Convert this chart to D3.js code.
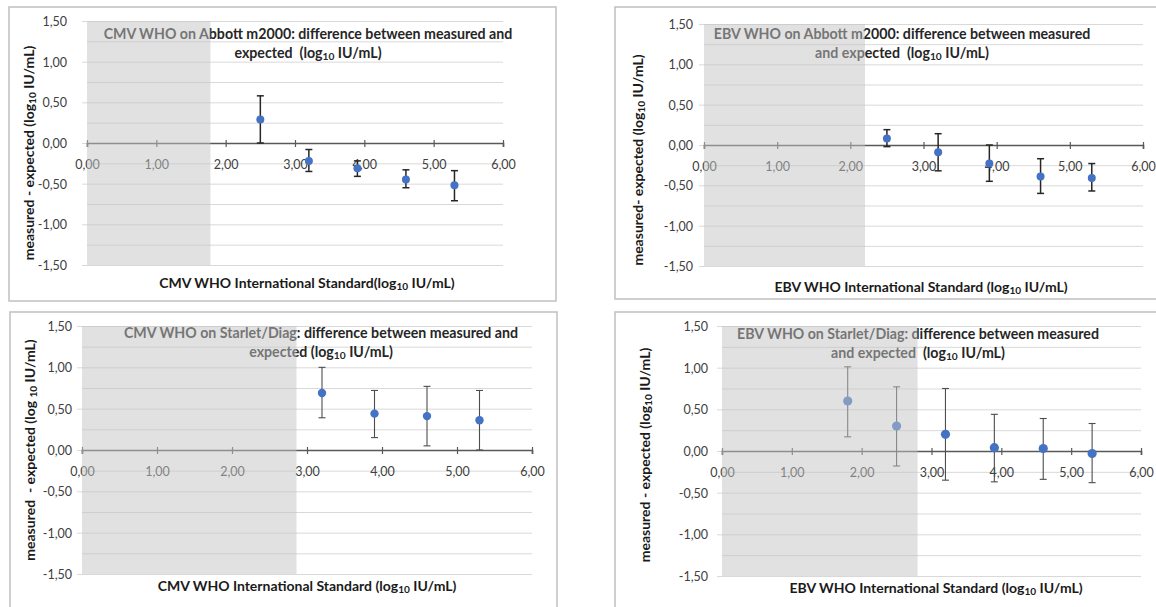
<!DOCTYPE html>
<html lang="en">
<head>
    <meta charset="UTF-8">
    <title>CMV / EBV WHO standard: measured - expected</title>
    <script src="https://d3js.org/d3.v7.min.js"></script>
    <style>
        body { margin: 0; background: #fff; }
        svg { display: block; font-family: Lato, "Open Sans", sans-serif; }
        .tick text { fill: #404040; font-size: 12.5px; font-family: Lato, sans-serif; }
        .ttl { font-weight: bold; font-size: 14.2px; fill: #262626; white-space: pre; }
        .axt { font-weight: bold; font-size: 14px; fill: #1a1a1a; white-space: pre; }
    </style>
</head>
<body>
    <svg id="chart" width="1156" height="607"></svg>

    <script>
        // ticks shared by all four panels
        const xTicks = [0, 1, 2, 3, 4, 5, 6];
        const yGrid = [-1.5, -1.25, -1, -0.75, -0.5, -0.25, 0, 0.25, 0.5, 0.75, 1, 1.25, 1.5];
        const yLabels = [-1.5, -1, -0.5, 0, 0.5, 1, 1.5];

        // CMV WHO on Abbott m2000
        const cmvAbbottX = [2.5, 3.2, 3.9, 4.6, 5.3];
        const cmvAbbottY = [0.29, -0.22, -0.31, -0.45, -0.52];
        const cmvAbbottHi = [0.58, -0.08, -0.22, -0.33, -0.34];
        const cmvAbbottLo = [0.0, -0.35, -0.41, -0.55, -0.71];

        // EBV WHO on Abbott m2000
        const ebvAbbottX = [2.5, 3.2, 3.9, 4.6, 5.3];
        const ebvAbbottY = [0.08, -0.09, -0.23, -0.39, -0.41];
        const ebvAbbottHi = [0.19, 0.14, 0.0, -0.17, -0.23];
        const ebvAbbottLo = [-0.02, -0.32, -0.45, -0.60, -0.57];

        // CMV WHO on Starlet/Diag
        const cmvStarletX = [3.2, 3.9, 4.6, 5.3];
        const cmvStarletY = [0.69, 0.44, 0.41, 0.36];
        const cmvStarletHi = [1.00, 0.72, 0.77, 0.72];
        const cmvStarletLo = [0.39, 0.15, 0.05, 0.0];

        // EBV WHO on Starlet/Diag
        const ebvStarletX = [1.8, 2.5, 3.2, 3.9, 4.6, 5.3];
        const ebvStarletY = [0.60, 0.30, 0.20, 0.04, 0.03, -0.03];
        const ebvStarletHi = [1.01, 0.77, 0.75, 0.44, 0.39, 0.33];
        const ebvStarletLo = [0.17, -0.18, -0.35, -0.37, -0.34, -0.38];

        // upper end of the shaded (below LoQ) region per panel
        const shadeLimits = [1.78, 2.20, 2.86, 2.80];

        const titles = [
            ["CMV WHO on Abbott m2000: difference between measured and", "expected  (log_{10} IU/mL)"],
            ["EBV WHO on Abbott m2000: difference between measured", "and expected  (log_{10} IU/mL)"],
            ["CMV WHO on Starlet/Diag: difference between measured and", "expected (log_{10} IU/mL)"],
            ["EBV WHO on Starlet/Diag: difference between measured", "and expected  (log_{10} IU/mL)"]
        ];
        const xTitles = [
            "CMV WHO International Standard(log_{10} IU/mL)",
            "EBV WHO International Standard (log_{10} IU/mL)",
            "CMV WHO International Standard (log_{10} IU/mL)",
            "EBV WHO International Standard (log_{10} IU/mL)"
        ];
        const yTitles = [
            "measured - expected (log_{10} IU/mL)",
            "measured- expected (log_{10} IU/mL)",
            "measured  - expected (log _{10} IU/mL)",
            "measured - expected (log_{10} IU/mL)"
        ];

        // layout of each panel on the page
        const layout = [
            {box: [9, 7, 547, 294], l: 87, r: 503, t: 21, b: 265, tx: 308, ty: 39, yx: 34, yy: 153, lab: 20, xx: 307, xy: 288, err: "#262626", ew: 1.5, rad: 4},
            {box: [615, 7, 545, 292], l: 704, r: 1143, t: 24, b: 266, tx: 902, ty: 39, yx: 643, yy: 160, lab: 11, xx: 921, xy: 292, err: "#262626", ew: 1.5, rad: 4},
            {box: [10, 312, 547, 300], l: 82, r: 532, t: 326, b: 574, tx: 321, ty: 338, yx: 34.5, yy: 450, lab: 10, xx: 307, xy: 591, err: "#4d4d4d", ew: 1.1, rad: 4.2},
            {box: [615, 312, 545, 300], l: 722, r: 1141, t: 326, b: 576, tx: 918, ty: 339, yx: 649.5, yy: 455, lab: 14, xx: 936, xy: 593, err: "#4d4d4d", ew: 1.1, rad: 4.6}
        ];

        const series = [
            {x: cmvAbbottX, y: cmvAbbottY, hi: cmvAbbottHi, lo: cmvAbbottLo},
            {x: ebvAbbottX, y: ebvAbbottY, hi: ebvAbbottHi, lo: ebvAbbottLo},
            {x: cmvStarletX, y: cmvStarletY, hi: cmvStarletHi, lo: cmvStarletLo},
            {x: ebvStarletX, y: ebvStarletY, hi: ebvStarletHi, lo: ebvStarletLo}
        ];

        const loc = d3.formatLocale({decimal: ",", thousands: ".", grouping: [3], currency: ["", ""], minus: "-"});
        const fmt = loc.format(".2f");

        // text with "_{10}" turned into a subscript
        function richText(sel, str) {
            const parts = str.split("_{10}");
            parts.forEach((p, i) => {
                if (i > 0) {
                    sel.append("tspan").attr("baseline-shift", "-20%").style("font-size", "72%").text("10");
                }
                sel.append("tspan").text(p);
            });
        }

        const svg = d3.select("#chart");

        layout.forEach((L, i) => {
            const s = series[i];
            const g = svg.append("g");
            const x = d3.scaleLinear().domain([0, 6]).range([L.l, L.r]);
            const y = d3.scaleLinear().domain([-1.5, 1.5]).range([L.b, L.t]);

            g.append("rect")
                .attr("x", L.box[0]).attr("y", L.box[1])
                .attr("width", L.box[2]).attr("height", L.box[3])
                .attr("fill", "#fff").attr("stroke", "#c0c0c0").attr("stroke-width", 1.5);

            // horizontal gridlines + y labels
            const yAxis = g.append("g")
                .attr("transform", `translate(${L.l},0)`)
                .call(d3.axisLeft(y).tickValues(yGrid).tickSize(-(L.r - L.l)).tickPadding(L.lab)
                    .tickFormat(d => yLabels.includes(d) ? fmt(d) : ""));
            yAxis.select(".domain").remove();
            yAxis.selectAll(".tick line")
                .attr("stroke", "#d9d9d9")
                .attr("x1", d => yLabels.includes(d) ? -5 : 0);
            yAxis.selectAll(".tick text").attr("dy", "0.35em");

            // x axis sits on y = 0
            const xAxis = g.append("g")
                .attr("transform", `translate(0,${y(0)})`)
                .call(d3.axisBottom(x).tickValues(xTicks).tickSizeOuter(0).tickSize(4).tickPadding(13)
                    .tickFormat(fmt));
            xAxis.select(".domain").attr("stroke", "#595959").attr("stroke-width", 1.6);
            xAxis.selectAll(".tick line").attr("stroke", "#595959").attr("stroke-width", 1.2).attr("y1", -3);

            // error bars
            const cap = 3.5;
            const eb = g.append("g").attr("stroke", L.err).attr("stroke-width", L.ew).attr("fill", "none");
            s.x.forEach((xv, k) => {
                eb.append("line").attr("x1", x(xv)).attr("x2", x(xv)).attr("y1", y(s.hi[k])).attr("y2", y(s.lo[k]));
                eb.append("line").attr("x1", x(xv) - cap).attr("x2", x(xv) + cap).attr("y1", y(s.hi[k])).attr("y2", y(s.hi[k]));
                eb.append("line").attr("x1", x(xv) - cap).attr("x2", x(xv) + cap).attr("y1", y(s.lo[k])).attr("y2", y(s.lo[k]));
            });

            g.append("g").selectAll("circle")
                .data(s.x.map((xv, k) => ({x: xv, y: s.y[k]})))
                .join("circle")
                .attr("cx", d => x(d.x)).attr("cy", d => y(d.y))
                .attr("r", L.rad).attr("fill", "#4472c4");

            // chart title (two lines, centred)
            titles[i].forEach((line, j) => {
                const t = g.append("text").attr("class", "ttl")
                    .attr("x", L.tx).attr("y", L.ty + j * 19).attr("text-anchor", "middle");
                richText(t, line);
            });

            const xt = g.append("text").attr("class", "axt")
                .attr("x", L.xx).attr("y", L.xy).attr("text-anchor", "middle");
            richText(xt, xTitles[i]);

            const yt = g.append("text").attr("class", "axt")
                .attr("transform", `translate(${L.yx},${L.yy}) rotate(-90)`)
                .attr("text-anchor", "middle");
            richText(yt, yTitles[i]);

            // translucent grey band drawn over everything below the limit
            g.append("rect")
                .attr("x", x(0)).attr("y", y(1.5))
                .attr("width", x(shadeLimits[i]) - x(0))
                .attr("height", y(-1.5) - y(1.5))
                .attr("fill", "#c4c4c4").attr("opacity", 0.5);
        });
    </script>
</body>
</html>
